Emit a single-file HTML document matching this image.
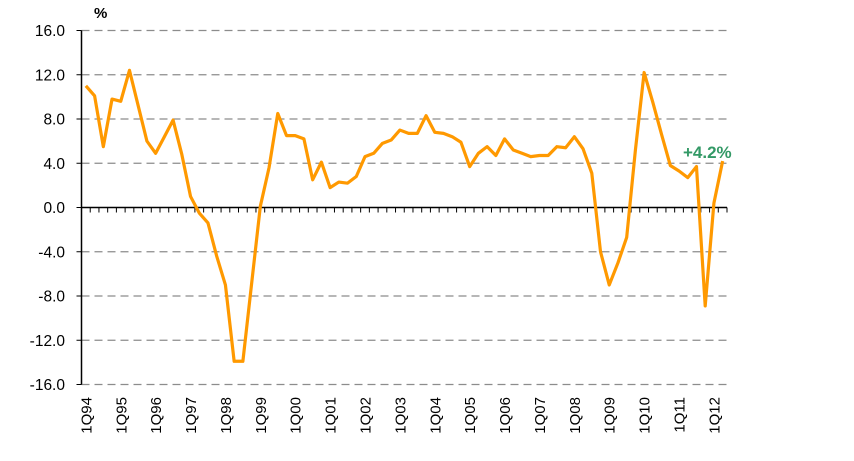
<!DOCTYPE html>
<html><head><meta charset="utf-8"><style>
body{margin:0;background:#fff}
svg text{font-family:"Liberation Sans",Arial,sans-serif}
</style></head><body>
<svg id="c" width="854" height="456" xmlns="http://www.w3.org/2000/svg">
<text x="94" y="18" font-size="15" font-weight="bold" fill="#000">%</text>
</svg>
<script>
const yTicks=[16,12,8,4,0,-4,-8,-12,-16];
const xLabels=["1Q94","1Q95","1Q96","1Q97","1Q98","1Q99","1Q00","1Q01","1Q02","1Q03","1Q04","1Q05","1Q06","1Q07","1Q08","1Q09","1Q10","1Q11","1Q12"];
const values=[11.0,10.1,5.5,9.8,9.6,12.4,9.2,6.0,4.9,6.4,7.9,4.8,1.0,-0.5,-1.4,-4.4,-7.0,-13.9,-13.9,-6.9,0.1,3.6,8.5,6.5,6.5,6.2,2.5,4.1,1.8,2.3,2.2,2.8,4.6,4.9,5.8,6.1,7.0,6.7,6.7,8.3,6.8,6.7,6.4,5.9,3.7,4.9,5.5,4.7,6.2,5.2,4.9,4.6,4.7,4.7,5.5,5.4,6.4,5.3,3.1,-4.0,-7.0,-5.0,-2.7,5.2,12.2,9.5,6.6,3.8,3.3,2.7,3.7,-8.9,0.4,4.2];
const annotation="+4.2%";
const svg=document.getElementById('c');const NS="http://www.w3.org/2000/svg";
const X0=81.5,X1=727,Y0=30.5,Y1=384.5,N=values.length;
const step=(X1-X0)/N;
const xs=i=>X0+step*(i+0.5);
const ys=v=>Y0+(16-v)/32*(Y1-Y0);
function mk(t,a){const e=document.createElementNS(NS,t);for(const k in a)e.setAttribute(k,a[k]);svg.appendChild(e);return e;}
yTicks.forEach(v=>{
 const y=ys(v);
 if(v!==0){const g=mk('line',{x1:X0,x2:X1,y1:y,y2:y,stroke:'#8c8c8c','stroke-width':1.2,'stroke-dasharray':'8,5'});
 
 }
 const t=mk('line',{x1:X0-5,x2:X0,y1:y,y2:y,stroke:'#000'});
 
 
 const l=mk('text',{x:65,y:y+5.5,'font-size':15.5,'text-anchor':'end',fill:'#000'});l.textContent=v.toFixed(1);
 
 
});
for(let i=0;i<=N;i++){const x=X0+step*i;const t=mk('line',{x1:x,x2:x,y1:ys(0),y2:ys(0)+5,stroke:'#000'});
 
 }
const za=mk('line',{x1:X0,x2:X1,y1:ys(0),y2:ys(0),stroke:'#000','stroke-width':1.5});


const ya=mk('line',{x1:X0,x2:X0,y1:Y0,y2:Y1,stroke:'#000','stroke-width':1.5});


xLabels.forEach((s,k)=>{const x=xs(k*4)+5.5;const t=mk('text',{x:x,y:397,'font-size':15,'text-anchor':'end',transform:`rotate(-90 ${x} 397)`,fill:'#000'});t.textContent=s;
 
 });
const p=mk('polyline',{points:values.map((v,i)=>xs(i)+','+ys(v)).join(' '),fill:'none',stroke:'#ff9900','stroke-width':3.2,'stroke-linejoin':'round'});


const a=mk('text',{x:683,y:158,'font-size':17,'font-weight':'bold',fill:'#339966'});a.textContent=annotation;


</script>
</body></html>
